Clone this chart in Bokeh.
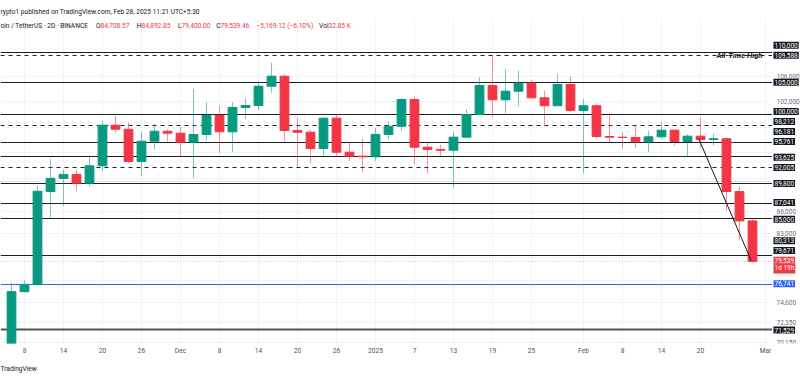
import pandas as pd
from bokeh.plotting import figure
from bokeh.layouts import row
from bokeh.models import Range1d, FixedTicker, Label, Title
from bokeh.core.properties import value
from bokeh.embed import file_html
from bokeh.resources import INLINE

# ---------------- data ----------------
start = "2024-11-06"
opens = [69370, 75880, 76740, 88670, 90500, 91050, 89830, 92280, 98300, 97690,
         92910, 95890, 97390, 97090, 95740, 96890, 99800, 97300, 101050, 101360,
         104450, 106090, 97500, 97240, 94800, 99380, 94260, 93680, 93590, 96890,
         98140, 102310, 94990, 94660, 94550, 96490, 99950, 104560, 102270, 103640,
         104940, 102580, 101320, 104730, 100580, 101320, 96590, 96490, 96440, 95800,
         96540, 97550, 95840, 96640, 96140, 96250, 88670, 84708.57]
highs = [76960, 77210, 89530, 93290, 91730, 91730, 93770, 98920, 99690, 98770,
         97190, 98520, 97690, 98000, 104030, 101880, 101360, 101880, 102520, 105270,
         108330, 106480, 99440, 97600, 99530, 99950, 95740, 96250, 97850, 98920,
         102580, 102790, 95740, 95350, 97390, 100840, 105920, 109588, 107200, 107030,
         105500, 103760, 106480, 106030, 102420, 101730, 100160, 97240, 98260, 97500,
         98770, 97600, 96890, 99440, 96980, 96490, 89340, 84892.85]
lows = [68800, 75760, 76570, 85120, 86660, 88720, 89390, 91520, 97190, 92660,
        90800, 94660, 95840, 93630, 90530, 95990, 94170, 94260, 99180, 100580,
        103380, 95840, 92230, 92570, 93780, 93530, 92950, 91470, 92950, 96140,
        97390, 92470, 91230, 93680, 89250, 96460, 99930, 99530, 100160, 101250,
        102500, 98100, 101260, 100370, 91230, 96250, 95740, 94760, 94910, 94260,
        96250, 95240, 93530, 94910, 95240, 86090, 82260, 79400.00]
closes = [75880, 76740, 88700, 90500, 91050, 89830, 92280, 98300, 97690, 92910,
          95890, 97390, 97090, 95740, 96890, 99800, 97300, 101050, 101360, 104450,
          106090, 97500, 97240, 94800, 99380, 94260, 93680, 93590, 96890, 98140,
          102310, 94990, 94660, 94550, 96490, 99950, 104560, 102270, 103640, 104940,
          102580, 101320, 104730, 100580, 101320, 96590, 96490, 96440, 95800, 96540,
          97550, 95840, 96640, 96140, 96250, 88670, 84708.57, 79539.46]

tick_dates = ["2024-11-08", "2024-11-14", "2024-11-20", "2024-11-26", "2024-12-02",
              "2024-12-08", "2024-12-14", "2024-12-20", "2024-12-26", "2025-01-01",
              "2025-01-07", "2025-01-13", "2025-01-19", "2025-01-25", "2025-02-02",
              "2025-02-08", "2025-02-14", "2025-02-20", "2025-03-02"]
tick_labels = ["8", "14", "20", "26", "Dec", "8", "14", "20", "26", "2025",
               "7", "13", "19", "25", "Feb", "8", "14", "20", "Mar"]

price_ticks = [106000, 102000, 86000, 83000, 74600, 72350, 70150]
grid_levels = [110000, 106000, 102000, 98000, 94200, 90500, 86000, 83000,
               80000, 77200, 74600, 72350, 70150]

solid_levels = [110000, 105000, 100000, 95761, 93625, 89800, 87041, 85000, 80313]
dashed_levels = [109588, 98212, 92005]
blue_levels = [76741]
support_levels = [71529]
last_price = 79539.46

box_values = [110000, 109588, 105000, 100000, 98212, 96181, 95761, 93625,
              92005, 89800, 87041, 85000, 80313, 79671, 71529]
box_shift = [7.7, 0, 0.6, 2.7, 4.3, 7.8, 0.6, -0.6, 0.3, -0.1, 1.0, -0.5, 14.4, 9.9, -0.4]

trend_dates = ["2025-02-19 18:00", "2025-02-27 19:12"]
trend_prices = [96200, 79650]

# ---------------- derived ----------------
t0 = pd.Timestamp(start)
cdates = pd.date_range(start, periods=len(opens), freq="2D")
xs = [float((d - t0).days) for d in cdates]
tick_x = [float((pd.Timestamp(d) - t0).days) for d in tick_dates]
trend_x = [(pd.Timestamp(d) - t0).total_seconds() / 86400.0 for d in trend_dates]

UP, DOWN = "#089981", "#F23645"
cols = [UP if c >= o else DOWN for o, c in zip(opens, closes)]
tops = [max(o, c) for o, c in zip(opens, closes)]
bots = [min(o, c) for o, c in zip(opens, closes)]

FONT = "Roboto"
H = 378
TOP, BOTTOM = 18, 35          # borders -> frame from y=18 to y=343
MAIN_W, SCALE_W = 772, 28
FRAME_BOTTOM = H - BOTTOM

yr = Range1d(70000, 116050)
p = figure(width=MAIN_W, height=H, output_backend="svg", toolbar_location=None,
           y_axis_type="log", y_axis_location=None,
           x_range=Range1d(-1.6923, 117.077), y_range=yr,
           min_border_left=0, min_border_right=0,
           min_border_top=TOP, min_border_bottom=BOTTOM)
p.outline_line_color = None
p.background_fill_color = "white"
p.border_fill_color = "white"

# title (header line) and watermark
p.title = Title(text="rypto1 published on TradingView.com, Feb 28, 2025 11:21 UTC+5:30",
                align="left", text_font=FONT, text_font_size="6.6px",
                text_font_style="normal", text_color="#131722", standoff=5)
p.add_layout(Title(text="TradingView", align="left", text_font=FONT,
                   text_font_size="6.6px", text_font_style="normal",
                   text_color="#131722", standoff=11), "below")

# grids
p.xgrid.grid_line_color = "#F0F3FA"
p.hspan(y=grid_levels, line_color="#F0F3FA", line_width=1)

# level lines
p.hspan(y=solid_levels, line_color="#1E1E1E", line_width=1.2)
p.hspan(y=dashed_levels, line_color="#1E1E1E", line_width=1.2, line_dash="4 4")
p.hspan(y=blue_levels, line_color="#2962FF", line_width=1)
p.hspan(y=support_levels, line_color="#555555", line_width=2)
p.hspan(y=[last_price], line_color="#F23645", line_alpha=0.45, line_width=1, line_dash="1 2")

# candles
p.segment(x0=xs, y0=lows, x1=xs, y1=highs, line_color=cols, line_alpha=0.55, line_width=1)
p.vbar(x=xs, width=1.35, top=tops, bottom=bots, fill_color=cols, line_color=cols, line_width=1)

# trend line
p.line(x=trend_x, y=trend_prices, line_color="#131722", line_width=1)

# x axis
p.xaxis.ticker = FixedTicker(ticks=tick_x)
p.xaxis.major_label_overrides = {x: l for x, l in zip(tick_x, tick_labels)}
p.xaxis.major_tick_out = 0
p.xaxis.major_tick_in = 0
p.xaxis.minor_tick_out = 0
p.xaxis.minor_tick_in = 0
p.xaxis.axis_line_color = None
p.xaxis.major_label_standoff = 3
p.xaxis.major_label_text_font = FONT
p.xaxis.major_label_text_font_size = "6.6px"
p.xaxis.major_label_text_color = "#50535E"

# All-Time High annotation
p.add_layout(Label(x=716, y=dashed_levels[0], x_units="screen", y_units="data",
                   text="All-Time High", text_font=FONT, text_font_size="7.6px",
                   text_font_style="bold italic", text_color="#131722",
                   text_baseline="middle", text_align="left"))

# legend line inside the chart pane (screen units from frame left / bottom)
def stext(x_page, y_page, txt, color="#131722", align="left", size="6.6px"):
    p.add_layout(Label(x=x_page, y=FRAME_BOTTOM - y_page, x_units="screen", y_units="screen",
                       text=txt, text_font=FONT, text_font_size=size, text_color=color,
                       text_baseline="middle", text_align=align))

stext(0, 25, "oin / TetherUS · 2D · BINANCE")
legend_vals = ["84,708.57", "84,892.85", "79,400.00", "79,539.46", "−5,169.12 (−6.10%)", "32.85 K"]
legend_keys = ["O", "H", "L", "C", "", "Vol"]
legend_x = [100, 141, 181, 220, 256, 328]
for k, v, x in zip(legend_keys, legend_vals, legend_x):
    if k:
        stext(x, 25, k, align="right")
    stext(x, 25, v, color="#F23645")

# ---------------- price scale ----------------
s = figure(width=SCALE_W, height=H, output_backend="svg", toolbar_location=None,
           y_axis_type="log", y_axis_location=None, x_axis_location=None,
           x_range=Range1d(0, SCALE_W), y_range=yr,
           min_border_left=0, min_border_right=0,
           min_border_top=TOP, min_border_bottom=BOTTOM)
s.outline_line_color = None
s.background_fill_color = "white"
s.border_fill_color = "white"
s.xgrid.visible = False
s.ygrid.visible = False

s.text(x=[4] * len(price_ticks), y=price_ticks, text=[f"{v:,}" for v in price_ticks],
       text_font=value(FONT), text_font_size="6.5px", text_color="#6A6D78",
       text_baseline="middle", text_align="left")

for v, sh in zip(box_values, box_shift):
    s.add_layout(Label(x=1, y=v, x_units="screen", y_units="data", y_offset=sh,
                       text=f"{v:,}", text_font=FONT, text_font_size="6.5px",
                       text_color="white", text_baseline="middle", text_align="left",
                       background_fill_color="#131722", padding=1))
for v, txt, sh, bg in [(blue_levels[0], f"{blue_levels[0]:,}", 0.6, "#2962FF"),
                       (last_price, f"{last_price:,.0f}", 1.2, "#F23645"),
                       (last_price, "1d 19h", -7.1, "#F23645")]:
    s.add_layout(Label(x=1, y=v, x_units="screen", y_units="data", y_offset=sh,
                       text=txt, text_font=FONT, text_font_size="6.5px",
                       text_color="white", text_baseline="middle", text_align="left",
                       background_fill_color=bg, padding=1))

layout = row(p, s, spacing=0)
open("out.html", "w").write(file_html(layout, INLINE))
